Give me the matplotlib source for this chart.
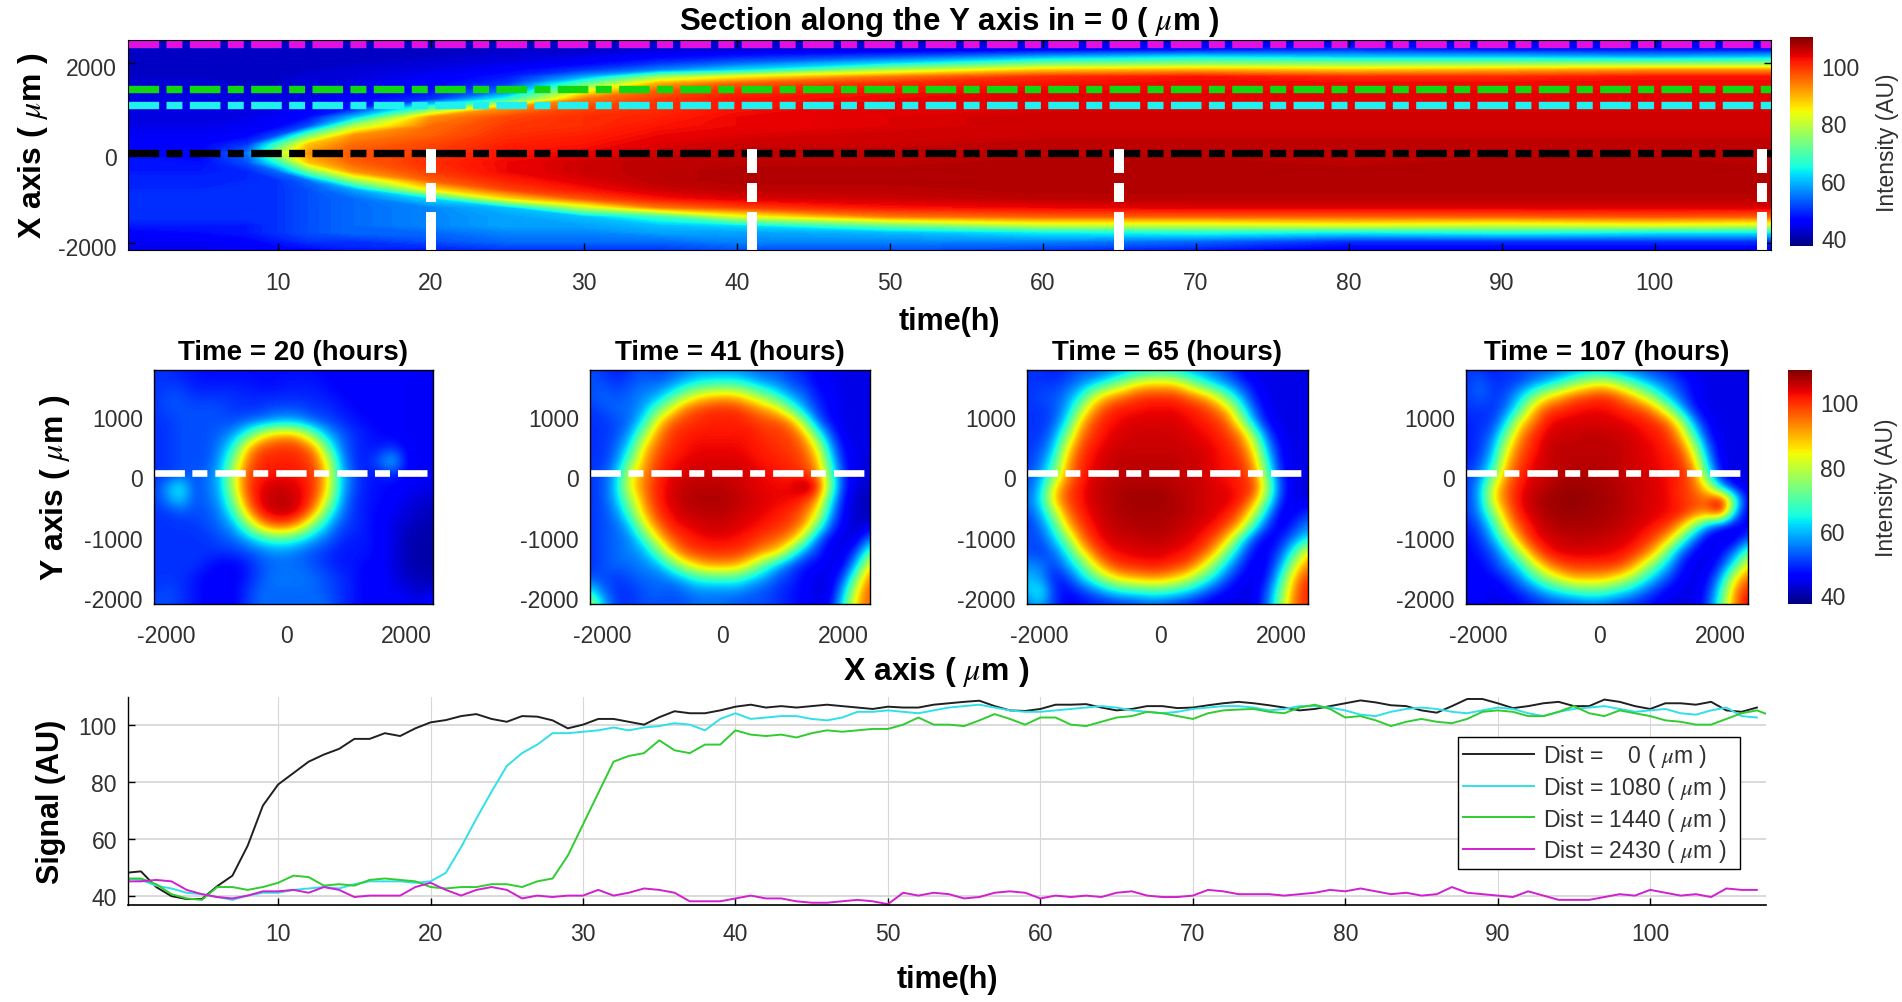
import matplotlib
matplotlib.use('Agg')
import matplotlib.pyplot as plt
import matplotlib.transforms as mtrans
from matplotlib.cm import ScalarMappable
from matplotlib.colors import Normalize
import numpy as np

plt.rcParams['font.family'] = ['Liberation Sans', 'DejaVu Sans']
plt.rcParams['mathtext.fontset'] = 'stix'
plt.rcParams['axes.unicode_minus'] = False

W, H = 1902, 1003

# kymograph samples, rows = position (um), columns = time (h)
kymo_time = [0.2, 5, 8, 10, 12, 15, 20, 25, 30, 35, 40, 50, 60, 70, 80, 90, 100, 107.6]
kymo_pos = [2520, 2300, 2150, 2000, 1850, 1700, 1550, 1400, 1200, 1000, 800, 600, 400, 200, 0,
            -200, -400, -600, -800, -1000, -1200, -1400, -1600, -1750, -1950, -2150]
kymo = [
    [42, 42, 42, 42, 42, 42, 42, 42, 42, 42, 42, 42, 42, 42, 42, 42, 42, 42],
    [42, 42, 42, 42, 42, 42, 42, 42, 42, 43, 43, 44, 46, 48, 50, 48, 48, 48],
    [42, 42, 42, 42, 42, 42, 42, 43, 44, 46, 48, 52, 58, 62, 60, 60, 58, 60],
    [42, 42, 42, 42, 42, 42, 43, 44, 46, 50, 54, 62, 72, 74, 74, 74, 74, 74],
    [42, 42, 42, 42, 42, 43, 44, 46, 50, 56, 62, 78, 88, 90, 88, 90, 92, 92],
    [42, 42, 42, 42, 43, 43, 45, 48, 58, 76, 84, 94, 100, 102, 100, 100, 102, 102],
    [43, 43, 42, 42, 43, 44, 46, 50, 70, 90, 96, 100, 102, 103, 103, 103, 103, 103],
    [43, 43, 43, 43, 43, 44, 47, 54, 82, 96, 100, 102, 103, 103, 103, 103, 103, 103],
    [44, 44, 44, 44, 44, 46, 50, 66, 94, 99, 102, 103, 104, 104, 104, 104, 104, 104],
    [44, 44, 44, 44, 46, 48, 70, 92, 98, 100, 102, 104, 104, 104, 104, 104, 104, 104],
    [44, 44, 44, 45, 47, 60, 92, 98, 100, 101, 103, 104, 105, 105, 105, 105, 105, 105],
    [44, 44, 45, 46, 52, 78, 95, 99, 100, 102, 103, 104, 105, 105, 105, 105, 105, 105],
    [45, 45, 46, 52, 72, 92, 96, 100, 101, 103, 104, 105, 105, 105, 105, 105, 105, 105],
    [46, 46, 50, 68, 88, 95, 98, 101, 102, 104, 105, 105, 106, 106, 106, 106, 106, 106],
    [47, 47, 55, 78, 92, 97, 99, 102, 103, 105, 106, 106, 106, 106, 106, 106, 106, 106],
    [48, 47, 52, 66, 88, 96, 100, 103, 105, 106, 106, 106, 107, 107, 106, 107, 107, 106],
    [48, 48, 49, 54, 72, 92, 99, 103, 105, 106, 107, 107, 107, 107, 107, 107, 107, 107],
    [49, 49, 49, 50, 54, 76, 96, 101, 104, 106, 107, 107, 107, 107, 107, 107, 107, 107],
    [49, 49, 50, 50, 52, 58, 85, 98, 102, 105, 106, 106, 107, 107, 107, 107, 107, 107],
    [50, 50, 50, 50, 52, 54, 62, 86, 97, 102, 104, 105, 106, 106, 106, 106, 106, 106],
    [50, 50, 50, 50, 52, 54, 56, 60, 80, 94, 98, 102, 103, 104, 104, 104, 104, 104],
    [50, 50, 50, 50, 52, 54, 56, 58, 60, 68, 82, 94, 96, 96, 96, 96, 97, 96],
    [48, 48, 48, 50, 52, 54, 56, 58, 58, 60, 62, 72, 80, 80, 82, 80, 82, 80],
    [46, 47, 48, 50, 52, 54, 54, 56, 56, 58, 58, 60, 64, 66, 64, 66, 64, 64],
    [45, 45, 46, 48, 50, 50, 52, 54, 54, 54, 56, 56, 56, 54, 50, 50, 50, 50],
    [44, 44, 45, 46, 46, 48, 48, 50, 50, 50, 52, 52, 50, 48, 44, 44, 44, 44],
]

# snapshot samples, evenly spaced cells over the panel, first row on top
snap_xlim = (-2210, 2450)
snap_ylim = (-2162, 1705)
snap_times = [20, 41, 65, 107]
snap_20 = [
    [50, 50, 48, 48, 47, 47, 47, 47, 47, 47, 47, 47, 47, 46, 46, 46, 46, 46, 46, 46, 45, 45],
    [50, 50, 50, 48, 48, 48, 48, 48, 47, 47, 48, 48, 48, 47, 46, 46, 46, 46, 46, 45, 45, 45],
    [50, 52, 52, 50, 50, 50, 50, 49, 49, 49, 49, 49, 49, 48, 47, 46, 46, 46, 46, 45, 45, 45],
    [50, 52, 52, 52, 52, 52, 50, 50, 50, 52, 52, 52, 50, 50, 48, 47, 46, 46, 46, 45, 45, 45],
    [50, 50, 52, 52, 52, 52, 52, 54, 56, 58, 60, 58, 54, 52, 50, 48, 47, 46, 46, 45, 45, 45],
    [50, 50, 52, 52, 52, 54, 58, 68, 82, 90, 92, 88, 74, 60, 54, 50, 48, 47, 46, 45, 45, 45],
    [50, 50, 52, 52, 52, 56, 66, 88, 98, 99, 100, 99, 94, 72, 56, 50, 48, 48, 50, 46, 45, 45],
    [50, 50, 52, 52, 52, 58, 74, 94, 100, 101, 101, 100, 98, 84, 60, 50, 48, 54, 62, 46, 45, 45],
    [50, 50, 52, 52, 54, 60, 80, 97, 101, 102, 102, 102, 99, 88, 62, 52, 48, 48, 50, 46, 45, 45],
    [50, 58, 66, 52, 54, 60, 80, 98, 103, 105, 105, 103, 100, 88, 62, 52, 48, 47, 46, 45, 45, 44],
    [50, 56, 62, 52, 54, 58, 74, 96, 104, 106, 106, 104, 99, 82, 60, 50, 48, 47, 46, 44, 43, 42],
    [50, 50, 52, 52, 52, 56, 66, 88, 102, 105, 106, 103, 92, 70, 56, 50, 48, 46, 45, 43, 42, 41],
    [50, 50, 50, 50, 52, 54, 58, 72, 88, 96, 96, 88, 72, 60, 52, 50, 48, 46, 44, 42, 41, 40],
    [50, 50, 50, 50, 50, 52, 54, 58, 64, 68, 68, 64, 58, 54, 50, 48, 48, 46, 44, 41, 40, 40],
    [50, 50, 50, 50, 50, 50, 50, 52, 54, 56, 56, 54, 52, 50, 48, 48, 48, 46, 44, 41, 40, 40],
    [50, 50, 50, 50, 48, 46, 46, 48, 52, 54, 54, 54, 52, 50, 48, 48, 46, 46, 44, 41, 40, 40],
    [50, 50, 50, 48, 46, 46, 46, 48, 52, 55, 55, 55, 54, 52, 50, 48, 46, 46, 44, 42, 41, 41],
    [50, 52, 50, 48, 46, 46, 46, 50, 54, 54, 54, 54, 54, 52, 50, 48, 46, 46, 45, 44, 42, 43],
    [52, 52, 50, 48, 46, 46, 46, 50, 54, 54, 54, 54, 54, 54, 50, 48, 46, 46, 46, 46, 44, 50],
]
snap_41 = [
    [52, 50, 48, 50, 52, 50, 52, 54, 56, 56, 56, 56, 54, 52, 52, 50, 48, 46, 45, 44, 44, 44],
    [52, 52, 50, 52, 54, 54, 56, 60, 64, 66, 66, 66, 62, 58, 56, 52, 50, 46, 45, 44, 44, 44],
    [52, 54, 52, 54, 56, 58, 66, 76, 84, 88, 90, 88, 82, 74, 66, 58, 54, 48, 46, 44, 44, 44],
    [50, 52, 54, 54, 58, 70, 82, 94, 98, 100, 100, 100, 96, 92, 86, 72, 58, 50, 46, 44, 44, 44],
    [50, 50, 52, 54, 64, 84, 96, 99, 100, 101, 101, 101, 100, 98, 98, 94, 76, 54, 47, 44, 44, 44],
    [50, 50, 52, 58, 76, 92, 99, 101, 102, 102, 102, 102, 102, 100, 99, 98, 92, 70, 52, 44, 44, 44],
    [50, 50, 54, 64, 86, 96, 100, 102, 103, 103, 103, 103, 102, 101, 100, 99, 96, 84, 58, 46, 44, 44],
    [50, 50, 56, 72, 90, 98, 102, 103, 104, 104, 104, 104, 103, 102, 101, 100, 98, 90, 64, 47, 44, 43],
    [50, 52, 60, 82, 92, 100, 103, 104, 105, 105, 105, 105, 104, 103, 102, 101, 100, 94, 70, 48, 44, 43],
    [50, 52, 62, 84, 94, 101, 104, 106, 106, 106, 106, 105, 104, 103, 103, 103, 108, 104, 72, 48, 43, 42],
    [50, 52, 60, 76, 92, 101, 104, 106, 107, 107, 107, 106, 105, 104, 103, 103, 100, 92, 64, 46, 42, 41],
    [50, 52, 56, 70, 88, 99, 103, 105, 106, 106, 106, 105, 104, 103, 102, 100, 96, 84, 58, 45, 42, 41],
    [50, 52, 54, 60, 80, 94, 101, 103, 104, 105, 105, 104, 103, 102, 100, 98, 92, 72, 52, 45, 42, 44],
    [50, 52, 54, 56, 66, 84, 96, 100, 102, 103, 103, 102, 101, 98, 96, 92, 76, 54, 46, 43, 44, 56],
    [50, 52, 54, 56, 58, 70, 86, 97, 99, 100, 100, 100, 97, 92, 88, 72, 56, 50, 44, 44, 52, 72],
    [50, 52, 54, 54, 56, 58, 68, 80, 88, 92, 92, 90, 82, 70, 60, 52, 48, 46, 44, 46, 62, 88],
    [52, 52, 50, 52, 54, 54, 56, 60, 66, 68, 68, 68, 62, 58, 52, 50, 46, 44, 44, 52, 76, 96],
    [64, 54, 50, 50, 52, 54, 52, 54, 56, 56, 56, 56, 54, 52, 50, 48, 46, 44, 44, 60, 86, 98],
    [80, 60, 50, 50, 52, 52, 52, 52, 54, 54, 54, 52, 52, 52, 50, 48, 46, 44, 46, 66, 90, 96],
]
snap_65 = [
    [50, 50, 48, 50, 52, 52, 54, 56, 60, 62, 64, 62, 58, 56, 54, 50, 46, 44, 44, 44, 44, 44],
    [50, 50, 50, 52, 56, 60, 66, 74, 82, 86, 86, 86, 78, 68, 60, 56, 50, 46, 44, 44, 44, 44],
    [50, 52, 52, 56, 64, 80, 90, 94, 98, 100, 100, 100, 96, 92, 84, 70, 58, 48, 44, 44, 44, 44],
    [50, 50, 52, 58, 76, 92, 99, 102, 102, 103, 103, 103, 102, 100, 96, 88, 68, 52, 45, 44, 44, 44],
    [50, 50, 52, 64, 88, 98, 102, 103, 104, 104, 104, 104, 103, 102, 100, 96, 80, 58, 46, 44, 44, 44],
    [50, 50, 56, 74, 94, 100, 103, 104, 105, 105, 105, 105, 104, 103, 102, 99, 94, 74, 52, 44, 44, 44],
    [50, 52, 60, 84, 98, 102, 104, 105, 105, 105, 105, 105, 105, 104, 103, 101, 97, 84, 58, 46, 44, 44],
    [50, 54, 66, 90, 100, 103, 105, 106, 106, 106, 106, 106, 105, 105, 103, 102, 100, 90, 64, 46, 44, 44],
    [52, 56, 72, 92, 100, 104, 105, 106, 106, 106, 106, 106, 105, 105, 103, 102, 101, 94, 70, 48, 44, 44],
    [52, 60, 84, 97, 102, 105, 106, 107, 107, 107, 107, 106, 106, 105, 104, 103, 101, 100, 76, 50, 44, 43],
    [54, 62, 88, 98, 102, 105, 106, 107, 108, 108, 108, 107, 106, 105, 104, 104, 102, 92, 70, 48, 44, 44],
    [52, 58, 76, 94, 101, 104, 106, 107, 107, 107, 107, 107, 106, 105, 104, 102, 96, 80, 58, 44, 46, 50],
    [50, 54, 66, 88, 98, 103, 105, 106, 107, 107, 107, 106, 105, 104, 102, 98, 88, 66, 50, 44, 50, 56],
    [52, 52, 60, 74, 94, 101, 104, 105, 105, 106, 106, 105, 104, 102, 98, 88, 66, 50, 44, 48, 56, 64],
    [52, 50, 54, 64, 82, 96, 102, 103, 104, 104, 104, 103, 102, 99, 90, 72, 56, 46, 46, 52, 68, 86],
    [56, 56, 50, 58, 68, 84, 96, 100, 101, 102, 102, 100, 98, 88, 74, 60, 50, 44, 46, 58, 80, 94],
    [60, 58, 48, 50, 60, 70, 80, 88, 90, 92, 92, 88, 82, 72, 62, 52, 46, 44, 48, 66, 90, 100],
    [60, 66, 50, 46, 50, 54, 60, 64, 66, 68, 68, 66, 62, 56, 50, 46, 44, 44, 52, 72, 94, 102],
    [54, 60, 50, 46, 46, 48, 48, 50, 50, 52, 52, 50, 48, 46, 44, 44, 44, 44, 54, 76, 96, 100],
]
snap_107 = [
    [50, 50, 48, 50, 50, 52, 52, 54, 56, 58, 58, 56, 54, 52, 50, 48, 46, 44, 44, 44, 44, 44],
    [50, 54, 50, 50, 52, 56, 60, 66, 74, 80, 84, 80, 72, 64, 58, 54, 50, 46, 44, 44, 44, 44],
    [50, 54, 50, 52, 60, 72, 84, 90, 96, 98, 100, 98, 92, 84, 72, 60, 52, 46, 44, 44, 44, 44],
    [50, 50, 50, 54, 68, 88, 98, 100, 102, 103, 103, 102, 100, 98, 92, 78, 60, 48, 44, 44, 44, 44],
    [48, 50, 50, 62, 84, 94, 102, 104, 104, 104, 104, 104, 103, 102, 100, 96, 80, 56, 46, 44, 44, 44],
    [48, 50, 54, 72, 92, 100, 104, 105, 105, 106, 106, 105, 105, 103, 102, 100, 90, 68, 48, 44, 44, 44],
    [48, 50, 58, 82, 96, 101, 105, 106, 106, 106, 106, 106, 105, 104, 103, 101, 97, 80, 54, 44, 44, 44],
    [48, 52, 62, 88, 98, 103, 105, 106, 106, 106, 106, 106, 105, 104, 103, 102, 100, 88, 60, 44, 44, 44],
    [50, 54, 70, 92, 100, 104, 105, 106, 107, 107, 107, 106, 105, 105, 104, 102, 101, 95, 68, 46, 44, 44],
    [50, 58, 82, 96, 102, 105, 106, 108, 108, 108, 107, 107, 106, 105, 104, 103, 100, 96, 84, 58, 45, 44],
    [50, 58, 84, 96, 103, 106, 108, 108, 109, 108, 108, 107, 106, 105, 104, 103, 100, 98, 96, 109, 72, 44],
    [50, 56, 74, 92, 102, 105, 107, 108, 108, 108, 107, 107, 106, 105, 104, 103, 102, 96, 94, 104, 60, 44],
    [48, 52, 64, 86, 98, 103, 106, 107, 107, 107, 107, 106, 105, 104, 102, 100, 90, 74, 56, 46, 44, 46],
    [46, 50, 58, 74, 92, 102, 104, 105, 106, 106, 105, 105, 104, 102, 98, 90, 72, 54, 44, 44, 44, 52],
    [46, 48, 52, 62, 78, 94, 102, 104, 104, 104, 104, 103, 102, 98, 90, 72, 54, 46, 44, 46, 54, 72],
    [46, 46, 50, 56, 64, 80, 92, 98, 100, 100, 100, 100, 96, 86, 72, 60, 48, 44, 44, 50, 66, 86],
    [46, 46, 46, 50, 56, 66, 76, 84, 90, 90, 90, 86, 80, 70, 60, 52, 46, 44, 46, 58, 84, 96],
    [46, 46, 44, 46, 50, 54, 60, 64, 68, 70, 70, 66, 62, 56, 50, 46, 44, 44, 48, 66, 92, 102],
    [44, 46, 44, 44, 46, 48, 50, 52, 52, 54, 54, 52, 50, 48, 46, 44, 44, 44, 50, 70, 94, 104],
]

# signal traces, one value per hour from t = 0
dist_labels = ['Dist =    0 ( $\\mu$m )', 'Dist = 1080 ( $\\mu$m )', 'Dist = 1440 ( $\\mu$m )', 'Dist = 2430 ( $\\mu$m )']
dist_pos = [0, 1080, 1440, 2430]
sig_0 = [48, 48.5, 43, 39.8, 38.8, 38.8, 43.3, 47, 57.5, 71.6, 79, 83, 87, 89.5, 91.5, 95, 95, 97, 96, 98.7,
         100.8, 101.6, 103, 103.7, 102, 101, 103, 102.8, 101.5, 98.7, 100, 102, 102, 101, 100, 102.6, 104.7, 104, 104, 105,
         106.3, 107, 106, 106.5, 106, 106.5, 107, 106.5, 106, 105.5, 106.3, 106, 106, 107, 107.5, 108, 108.4, 106.5, 105, 104.8,
         105.5, 107, 107, 107.2, 106, 105, 105.5, 106.5, 106.5, 105.8, 106, 106.8, 107.5, 108, 107.5, 106.8, 106, 105, 105.5, 106.5,
         107.5, 108.5, 107.8, 106.8, 106.5, 105, 104.2, 106.5, 109, 109, 107.5, 105.8, 106.5, 107.5, 108, 106.5, 106.5, 108.8, 108, 106.5,
         105.5, 107.5, 107.5, 107, 108, 105, 104.5, 106]
sig_1080 = [46, 45.5, 43.5, 42.5, 41, 40.5, 39.5, 38.5, 40, 41, 41, 42, 42.5, 43, 42.5, 44, 45, 45, 45, 44.5,
            45, 48, 57, 67, 76.5, 85.5, 90, 93, 97, 97, 97.5, 98, 99, 98, 99, 99.5, 100.5, 100, 98, 102,
            104, 102, 102.5, 103, 103, 102, 101.5, 102.5, 104.5, 104.5, 105, 104.5, 104, 105, 106, 106.5, 107, 106, 105, 104.5,
            104.5, 105, 105.5, 106, 106.5, 106, 105, 104.5, 104, 104.5, 105.5, 106, 106.5, 106.5, 106, 105, 105.5, 106.5, 106.5, 106,
            105, 103.5, 103, 104.5, 105.5, 106, 105.5, 104.5, 104, 105, 106, 105.5, 104, 103, 104.5, 105.5, 106, 106.5, 105.5, 104.5,
            105, 105.5, 104, 103.5, 105, 106, 103, 102.5]
sig_1440 = [46, 46, 44, 40.5, 39, 38.5, 43, 43, 42, 43, 44.5, 47, 46.5, 43.5, 44, 43.5, 45.5, 46, 45.5, 45,
            43, 42.5, 43, 43, 44, 44, 43, 45, 46, 54, 65, 76, 87, 89, 90, 94.5, 91, 90, 93, 93,
            98, 96.5, 96, 96.5, 95.5, 97, 98, 97.5, 98, 98.5, 98.5, 100, 102.5, 100, 100, 99.5, 101.5, 103.7, 102, 100,
            102.5, 102.5, 100, 99.5, 101, 102.5, 103, 104.5, 104, 103, 102, 104, 105, 105.3, 105.5, 104.5, 104, 106, 107, 105.5,
            102.5, 103, 101.5, 99.5, 101, 102, 101, 100.5, 102, 104.5, 105, 104.5, 103, 103, 104.5, 106.5, 104, 103,
            105, 104, 103, 101.5, 101, 100, 100, 102, 104, 105, 103, 102.5]
sig_2430 = [45, 45, 45.5, 45, 42, 40.5, 39.5, 39, 40, 41.5, 41.5, 42, 41, 43, 42, 39.5, 40, 40, 40, 43,
            44.5, 42, 40, 42, 43, 42, 39, 40, 39.5, 40, 40, 42, 40, 41, 42.5, 42, 41, 38, 38, 38,
            39, 40, 39, 39, 38, 37.5, 37.5, 38, 38.5, 38, 37, 41, 40, 41, 40.5, 39, 39.5, 41, 41.5, 41,
            39, 40, 39.5, 40, 39.5, 41, 41.5, 40, 39.5, 39.5, 40, 42, 41.5, 40.5, 40.5, 40.5, 40, 40.5, 41, 42,
            41.5, 42.5, 41.5, 40.5, 41, 40, 40.5, 43, 41, 40.5, 40, 39.5, 41.5, 40, 38.5, 38.5, 38.5, 39.5, 40.5, 40,
            42, 41, 40, 40.5, 39.5, 42.5, 42, 42]

sig_series = [sig_0, sig_1080, sig_1440, sig_2430]
sig_colors = ['#202020', '#30e0e8', '#30cc30', '#d020d0']
mark_colors = ['black', '#20f0f0', '#10d810', '#e010e0']
norm = Normalize(37.3, 110)
levels = np.linspace(37, 111, 149)
text_col = '#303030'


def px_axes(fig, left, right, top, bottom):
    return fig.add_axes([left / W, 1 - bottom / H, (right - left) / W, (bottom - top) / H])


def shift_labels(fig, labels, dx=0, dy=0):
    off = mtrans.ScaledTranslation(dx / 100, dy / 100, fig.dpi_scale_trans)
    for lab in labels:
        lab.set_transform(lab.get_transform() + off)


def style_ticks(ax, size=16.5):
    ax.tick_params(direction='in', length=5, width=1, labelsize=size, labelcolor=text_col, pad=8, color='black')


def add_cbar(fig, left, right, top, bottom):
    cax = px_axes(fig, left, right, top, bottom)
    cb = fig.colorbar(ScalarMappable(norm=norm, cmap='jet'), cax=cax, ticks=[40, 60, 80, 100])
    cb.ax.tick_params(length=0, labelsize=16.5, labelcolor=text_col, pad=6)
    cb.set_label('Intensity (AU)', fontsize=16.5, color=text_col, labelpad=12)
    cb.outline.set_visible(False)
    return cb


fig = plt.figure(figsize=(W / 100, H / 100), dpi=100)

# top kymograph
ax = px_axes(fig, 128, 1771, 41, 251)
ax.contourf(kymo_time, kymo_pos, np.array(kymo), levels=levels, cmap='jet', norm=norm, extend='both')
for d, c in zip(dist_pos, mark_colors):
    ax.plot([0.2, 107.6], [d, d], color=c, lw=5.3, ls=(0, (4.16, 1, 2.17, 1)))
for t in snap_times:
    ax.plot([t, t], [-2150, 100], color='white', lw=7.2, ls=(0, (3.8, 1, 1.9, 1)))
ax.set_xlim(0.2, 107.6)
ax.set_ylim(-2150, 2520)
ax.set_xticks(range(10, 101, 10))
ax.set_yticks([-2000, 0, 2000])
style_ticks(ax)
ax.tick_params(right=True, top=True)
ax.xaxis.set_tick_params(pad=15)
shift_labels(fig, ax.get_yticklabels(), dy=-3)
for s in ax.spines.values():
    s.set_linewidth(0.8)
ax.set_title('Section along the Y axis in = 0 ( $\\mu$m )', fontsize=22.5, fontweight='bold', pad=8)
ax.set_xlabel('time(h)', fontsize=22, fontweight='bold', labelpad=9)
ax.set_ylabel('X axis ( $\\mu$m )', fontsize=23, fontweight='bold', labelpad=6)
add_cbar(fig, 1790, 1813, 38, 247)

# snapshots
boxes = [(154, 433), (590, 870), (1027, 1308), (1466, 1748)]
for (x0, x1), t, z in zip(boxes, snap_times, [snap_20, snap_41, snap_65, snap_107]):
    ax = px_axes(fig, x0, x1, 371, 605)
    z = np.array(z)
    half_x = (snap_xlim[1] - snap_xlim[0]) / (z.shape[1] - 1) / 2
    half_y = (snap_ylim[1] - snap_ylim[0]) / (z.shape[0] - 1) / 2
    ax.imshow(z, cmap='jet', norm=norm, aspect='auto', interpolation='bicubic', interpolation_stage='data',
              extent=(snap_xlim[0] - half_x, snap_xlim[1] + half_x, snap_ylim[0] - half_y, snap_ylim[1] + half_y))
    ax.plot([snap_xlim[0], 2355], [0, 0], color='white', lw=4.8, ls=(0, (4.56, 1.12, 2.25, 1.2)))
    ax.set_xlim(*snap_xlim)
    ax.set_ylim(*snap_ylim)
    ax.set_xticks([-2000, 0, 2000])
    ax.set_yticks([-2000, -1000, 0, 1000])
    style_ticks(ax)
    ax.tick_params(length=0)
    ax.xaxis.set_tick_params(pad=14.5)
    shift_labels(fig, ax.get_yticklabels(), dy=-4)
    for s in ax.spines.values():
        s.set_linewidth(1)
    ax.set_title('Time = %d (hours)' % t, fontsize=20, fontweight='bold', pad=8)
    if t == 20:
        ax.set_ylabel('Y axis ( $\\mu$m )', fontsize=23, fontweight='bold', labelpad=8.5)
add_cbar(fig, 1788, 1812, 371, 605)
fig.text(936 / W, 1 - 672 / H, 'X axis ( $\\mu$m )', fontsize=23, fontweight='bold', ha='center', va='center')

# signal traces
ax = px_axes(fig, 128, 1766, 698, 906)
for vals, lab, c in zip(sig_series, dist_labels, sig_colors):
    hours = np.arange(len(vals))
    ax.plot(hours, vals, color=c, lw=1.4, label=lab)
ax.set_xlim(0.15, 107.6)
ax.set_ylim(36.7, 109.7)
ax.set_xticks(range(10, 101, 10))
ax.set_yticks([40, 60, 80, 100])
ax.grid(True, axis='y', color='#d8d8d8', lw=1.3)
ax.grid(True, axis='x', color='#d8d8d8', lw=0.8)
ax.set_axisbelow(True)
style_ticks(ax)
ax.xaxis.set_tick_params(pad=12)
ax.spines['top'].set_visible(False)
ax.spines['right'].set_visible(False)
ax.spines['left'].set_linewidth(1)
ax.spines['bottom'].set_linewidth(1.2)
ax.set_xlabel('time(h)', fontsize=22, fontweight='bold', labelpad=14)
ax.set_ylabel('Signal (AU)', fontsize=22, fontweight='bold', labelpad=9)
leg = ax.legend(loc='lower left', bbox_to_anchor=((1458 - 128) / 1638, (906 - 870) / 208, 282 / 1638, 132 / 208),
                mode='expand', borderaxespad=0, fontsize=16.6, fancybox=False, framealpha=1, edgecolor='black',
                handlelength=3.1, labelspacing=0.21, borderpad=0.2, handletextpad=0.4, labelcolor=text_col)
leg.get_frame().set_linewidth(1)

fig.savefig('out.png', dpi=100)
